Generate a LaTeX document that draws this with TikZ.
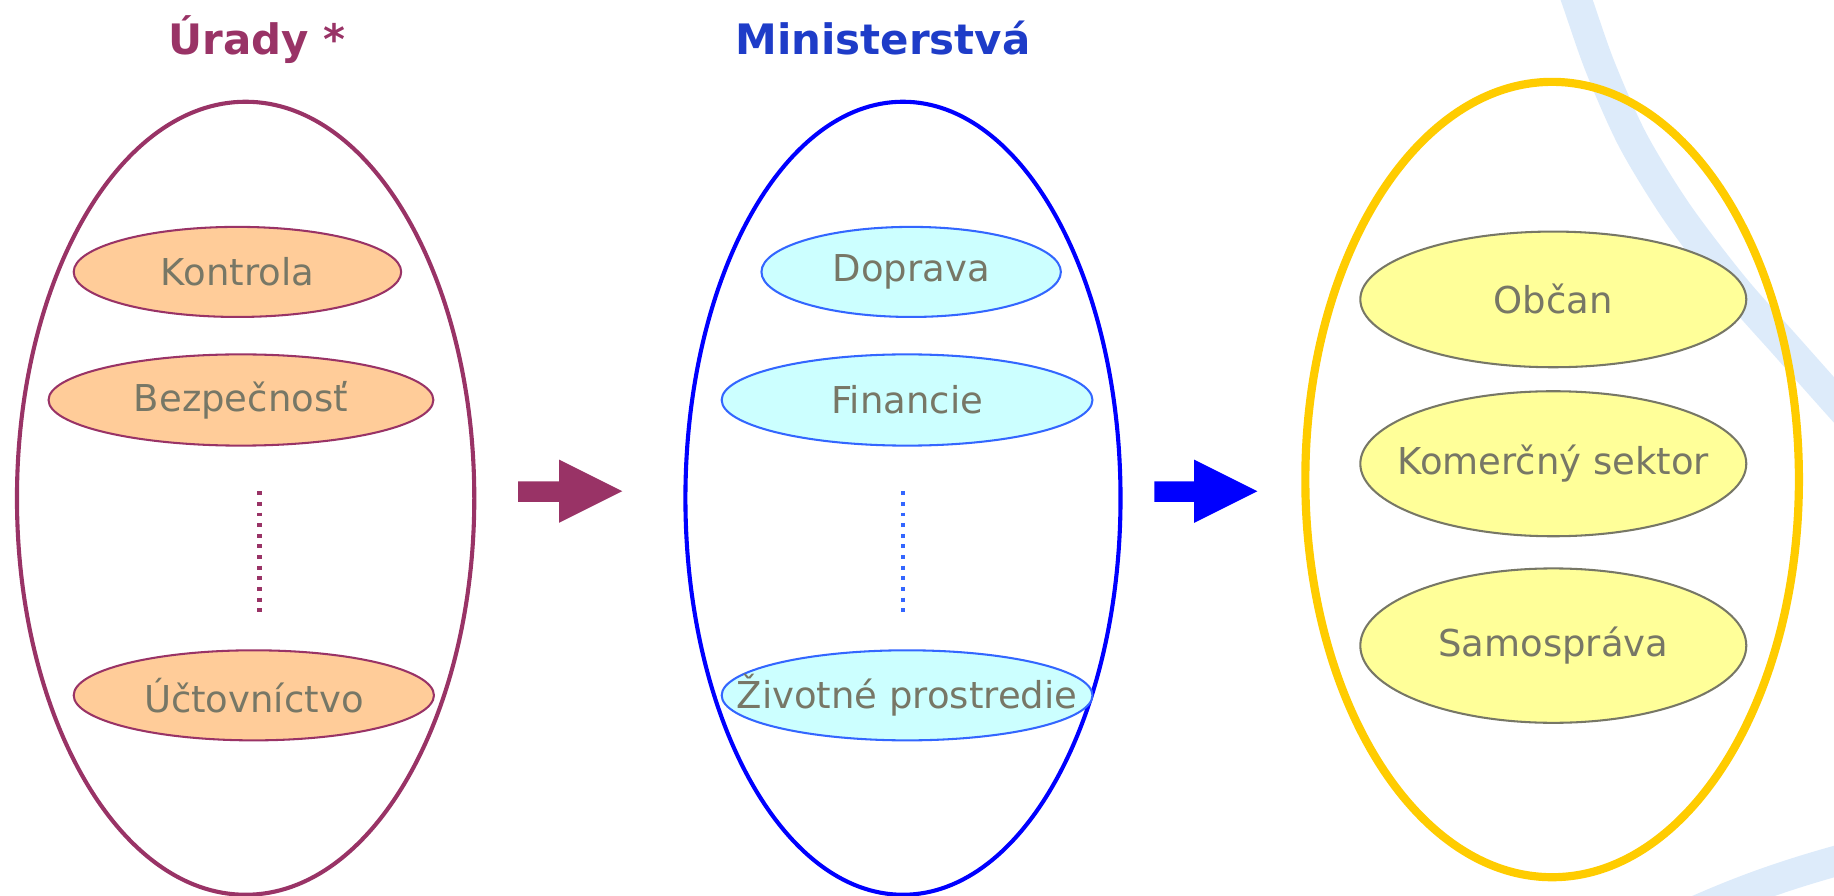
\documentclass[tikz,border=0pt]{standalone}
\usepackage{fontspec}
\setmainfont{DejaVu Sans}
\usetikzlibrary{shapes.geometric}
\definecolor{urcol}{RGB}{153,51,102}
\definecolor{mincol}{RGB}{0,0,255}
\definecolor{mintxt}{RGB}{30,60,200}
\definecolor{lineblue}{RGB}{51,102,255}
\definecolor{zlta}{RGB}{255,204,0}
\definecolor{txtgray}{RGB}{119,119,102}
\definecolor{bgblue}{RGB}{221,235,250}
\tikzset{
  big/.style={ellipse,inner sep=0pt},
  item/.style={ellipse,inner sep=0pt,line width=0.5pt,label={[text=txtgray,font=\fontsize{9}{11}\selectfont]center:#1}},
  title/.style={anchor=base,font=\fontsize{10.2}{12}\selectfont\bfseries},
  bodky/.style={line width=0.04cm,dash pattern=on 0.034cm off 0.057cm},
}

\begin{document}
\begin{tikzpicture}
\useasboundingbox (0,0) rectangle (15.68,7.66);

\begin{scope}
  \clip (0,0) rectangle (15.68,7.66);
  \draw[bgblue,line width=0.26cm] plot[smooth] coordinates {(13.375,7.95) (13.48,7.66) (13.68,7.09) (13.96,6.46) (14.34,5.84) (14.82,5.21) (15.28,4.69) (15.68,4.24) (15.95,3.94)};
  \draw[bgblue,line width=0.26cm] (14.45,-0.15) .. controls (14.9,0.05) and (15.3,0.2) .. (16.0,0.38);
\end{scope}

\node[title,text=urcol] (turady) at (2.20,7.19) {Úrady *};
\node[title,text=mintxt] (tmin) at (7.55,7.19) {Ministerstvá};

\node[big,draw=urcol,line width=0.035cm,minimum width=3.91cm,minimum height=6.78cm] (urady) at (2.10,3.40) {};
\node[big,draw=mincol,line width=0.035cm,minimum width=3.72cm,minimum height=6.78cm] (min) at (7.72,3.40) {};
\node[big,draw=zlta,line width=0.07cm,minimum width=4.22cm,minimum height=6.80cm] (obc) at (13.27,3.56) {};

\node[item=Kontrola,draw=urcol,fill={rgb,255:red,255;green,204;blue,153},minimum width=2.80cm,minimum height=0.77cm] (kontrola) at (2.03,5.335) {};
\node[item=Bezpečnosť,draw=urcol,fill={rgb,255:red,255;green,204;blue,153},minimum width=3.29cm,minimum height=0.78cm] (bezp) at (2.06,4.24) {};
\node[item=Účtovníctvo,draw=urcol,fill={rgb,255:red,255;green,204;blue,153},minimum width=3.08cm,minimum height=0.77cm] (uct) at (2.17,1.715) {};
\draw[urcol,bodky] (2.22,3.46) -- (2.22,2.41);

\node[item=Doprava,draw=lineblue,fill={rgb,255:red,204;green,255;blue,255},minimum width=2.56cm,minimum height=0.77cm] (doprava) at (7.79,5.335) {};
\node[item=Financie,draw=lineblue,fill={rgb,255:red,204;green,255;blue,255},minimum width=3.17cm,minimum height=0.78cm] (financie) at (7.755,4.24) {};
\node[item=Životné prostredie,draw=lineblue,fill={rgb,255:red,204;green,255;blue,255},minimum width=3.17cm,minimum height=0.77cm] (zivot) at (7.755,1.715) {};
\draw[lineblue,bodky] (7.72,3.46) -- (7.72,2.41);

\node[item=Občan,draw=txtgray,fill={rgb,255:red,255;green,255;blue,153},minimum width=3.30cm,minimum height=1.16cm] (obcan) at (13.28,5.10) {};
\node[item=Komerčný sektor,draw=txtgray,fill={rgb,255:red,255;green,255;blue,153},minimum width=3.30cm,minimum height=1.24cm] (komer) at (13.28,3.695) {};
\node[item=Samospráva,draw=txtgray,fill={rgb,255:red,255;green,255;blue,153},minimum width=3.30cm,minimum height=1.32cm] (samo) at (13.28,2.14) {};

\fill[urcol] (4.43,3.545) -- (4.78,3.545) -- (4.78,3.73) -- (5.32,3.46) -- (4.78,3.19) -- (4.78,3.37) -- (4.43,3.37) -- cycle;
\fill[mincol] (9.87,3.545) -- (10.21,3.545) -- (10.21,3.73) -- (10.75,3.46) -- (10.21,3.19) -- (10.21,3.37) -- (9.87,3.37) -- cycle;

\end{tikzpicture}
\end{document}
